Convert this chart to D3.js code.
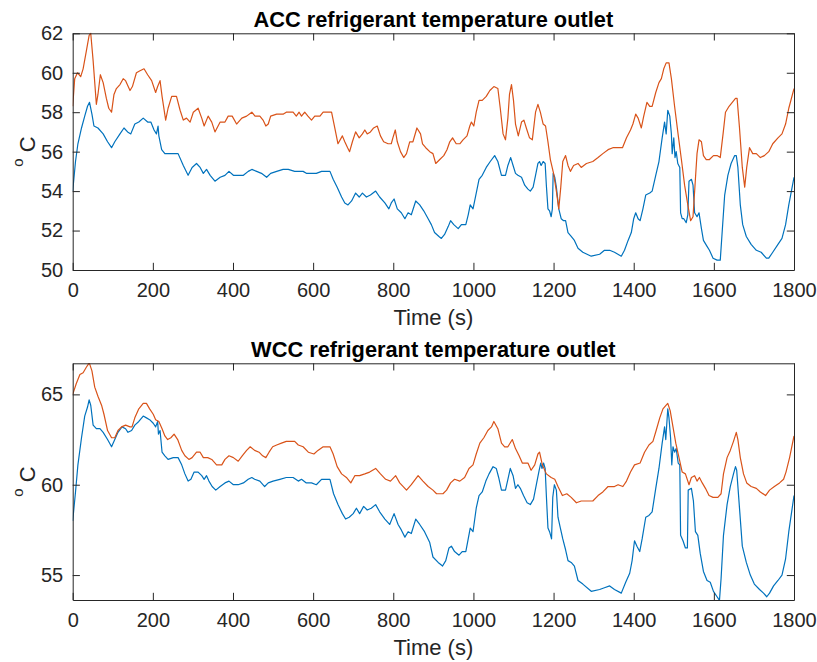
<!DOCTYPE html>
<html>
<head>
<meta charset="utf-8">
<script src="https://cdn.jsdelivr.net/npm/d3@7/dist/d3.min.js"></script>
<style>
  html, body { margin: 0; padding: 0; background: #fff; }
  svg { display: block; }
  text { font-family: "Liberation Sans", Arial, Helvetica, sans-serif; }
</style>
</head>
<body>
<svg id="chart" width="817" height="662"></svg>
<script>
// ---------------- DATA ----------------
const xTicks = [0, 200, 400, 600, 800, 1000, 1200, 1400, 1600, 1800];
const accYTicks = [50, 52, 54, 56, 58, 60, 62];
const wccYTicks = [55, 60, 65];
const accYDomain = [50, 62];
const wccYDomain = [53.62, 66.72];
const xDomain = [0, 1800];
const titles = ["ACC refrigerant temperature outlet", "WCC refrigerant temperature outlet"];
const xLabel = "Time (s)";

// ACC, series 2 (orange) [time s, temperature °C]
const accSeries2 = [[0,58.3],[5,59.7],[12,60.0],[20,59.8],[26,60.2],[34,61.1],[41,61.9],[45,62.0],[51,60.6],[59,58.4],[63,58.9],[69,59.9],[76,59.5],[84,58.7],[90,58.2],[97,58.0],[103,58.9],[109,59.2],[118,59.4],[126,59.7],[132,59.6],[143,59.1],[149,59.3],[159,60.0],[168,60.1],[178,60.2],[187,59.9],[197,59.6],[207,59.0],[212,59.3],[218,59.6],[223,58.8],[232,57.6],[238,58.2],[247,58.8],[259,58.8],[268,58.1],[276,57.6],[284,57.7],[293,57.5],[301,58.0],[313,58.2],[322,57.7],[328,57.3],[338,57.8],[347,57.5],[355,57.0],[368,57.5],[380,57.5],[388,57.8],[398,57.8],[409,57.4],[422,57.7],[434,57.8],[447,58.0],[455,57.8],[467,57.8],[475,57.6],[482,57.3],[488,57.4],[494,57.8],[509,57.9],[525,57.9],[533,58.0],[550,58.0],[558,57.8],[565,58.0],[571,57.8],[579,58.0],[587,57.8],[596,57.6],[604,57.8],[617,57.8],[625,58.0],[646,58.0],[654,57.2],[662,56.4],[673,56.8],[679,56.5],[686,56.2],[691,56.0],[698,56.5],[706,57.0],[715,56.7],[723,56.9],[729,57.1],[735,56.9],[743,57.0],[751,57.2],[760,57.3],[768,56.8],[776,56.5],[787,56.4],[795,56.4],[799,56.7],[805,57.1],[810,56.5],[818,56.0],[826,55.7],[833,55.9],[841,56.5],[849,56.5],[859,57.2],[868,56.9],[873,56.4],[881,56.2],[891,56.0],[899,55.9],[906,55.4],[916,55.6],[926,55.8],[934,56.1],[941,56.5],[948,56.7],[957,56.4],[966,56.4],[974,56.6],[984,56.8],[991,57.3],[995,57.5],[1001,57.3],[1007,58.0],[1014,58.6],[1022,58.6],[1032,58.8],[1041,59.1],[1051,59.3],[1061,59.2],[1067,58.2],[1074,56.9],[1080,56.6],[1086,57.7],[1090,58.9],[1095,59.4],[1100,58.6],[1105,57.4],[1112,56.8],[1120,57.5],[1126,57.6],[1132,57.2],[1140,56.7],[1147,56.6],[1155,58.0],[1161,58.4],[1167,58.0],[1174,57.4],[1180,57.3],[1186,56.5],[1192,55.6],[1200,54.9],[1207,54.0],[1213,53.1],[1218,54.2],[1223,55.5],[1230,55.8],[1236,55.3],[1242,55.0],[1250,55.3],[1261,55.4],[1269,55.2],[1282,55.4],[1298,55.5],[1311,55.7],[1323,55.9],[1336,56.1],[1348,56.2],[1372,56.2],[1382,56.7],[1392,57.1],[1398,57.4],[1405,57.9],[1411,57.7],[1419,57.2],[1425,57.8],[1433,58.5],[1440,58.3],[1446,58.3],[1455,59.0],[1463,59.5],[1469,59.7],[1475,60.2],[1481,60.5],[1488,60.5],[1494,59.7],[1502,58.3],[1510,57.0],[1519,55.6],[1527,54.3],[1535,53.3],[1542,52.5],[1548,52.7],[1553,54.3],[1558,55.9],[1563,56.6],[1569,56.5],[1574,55.8],[1581,55.6],[1589,55.6],[1599,55.8],[1608,55.8],[1616,55.7],[1623,56.9],[1629,58.0],[1638,58.3],[1646,58.5],[1654,58.7],[1658,58.7],[1664,57.2],[1671,55.2],[1677,54.2],[1682,55.2],[1689,56.2],[1697,55.9],[1706,55.9],[1716,55.7],[1726,55.8],[1737,56.0],[1747,56.4],[1760,56.7],[1770,56.9],[1779,57.4],[1787,58.2],[1800,59.2]];

// ACC, series 1 (blue)
const accSeries1 = [[0,54.0],[7,55.5],[13,56.4],[22,57.2],[30,57.8],[37,58.3],[42,58.5],[48,57.9],[53,57.3],[63,57.2],[76,56.9],[87,56.5],[97,56.2],[105,56.5],[118,56.9],[128,57.2],[137,57.0],[145,56.9],[155,57.4],[165,57.5],[176,57.7],[187,57.5],[195,57.5],[203,57.1],[209,56.9],[213,57.3],[215,56.8],[222,56.1],[230,55.9],[238,55.9],[251,55.9],[263,55.9],[276,55.3],[288,54.8],[298,55.2],[309,55.4],[318,55.2],[326,54.9],[334,55.1],[343,54.8],[355,54.5],[368,54.7],[380,54.8],[390,55.0],[401,54.8],[413,54.8],[426,54.8],[438,55.0],[447,55.1],[459,55.0],[471,54.9],[484,54.7],[494,54.9],[509,55.0],[525,55.1],[538,55.1],[554,55.0],[567,55.0],[575,55.0],[583,54.9],[596,54.9],[608,54.9],[621,55.0],[642,55.0],[650,54.6],[660,54.2],[671,53.7],[679,53.4],[687,53.3],[696,53.5],[706,53.9],[715,53.7],[723,53.9],[733,53.7],[743,53.8],[756,54.0],[766,53.7],[779,53.4],[789,53.1],[795,53.4],[802,53.6],[810,53.1],[820,52.9],[829,52.6],[837,52.9],[845,52.8],[856,53.5],[866,53.3],[876,53.0],[887,52.6],[895,52.3],[903,51.9],[914,51.7],[920,51.6],[928,51.8],[937,52.2],[943,52.5],[951,52.3],[962,52.1],[970,52.3],[981,52.3],[987,52.8],[992,53.3],[999,53.1],[1006,53.8],[1014,54.6],[1022,54.8],[1032,55.2],[1042,55.5],[1053,55.8],[1061,55.5],[1070,54.8],[1080,54.8],[1086,55.3],[1093,55.7],[1099,55.3],[1105,54.9],[1111,54.8],[1120,54.7],[1128,54.3],[1136,54.1],[1142,54.0],[1149,54.2],[1155,54.8],[1161,55.4],[1165,55.5],[1169,55.3],[1174,55.5],[1179,55.4],[1182,54.3],[1186,53.1],[1190,53.0],[1194,52.7],[1197,53.1],[1199,54.9],[1203,54.7],[1207,54.2],[1213,53.1],[1219,52.6],[1225,52.5],[1230,52.5],[1236,51.9],[1244,51.7],[1252,51.5],[1261,51.1],[1273,50.9],[1294,50.7],[1315,50.8],[1327,51.0],[1340,51.0],[1352,50.9],[1369,50.7],[1377,51.0],[1386,51.5],[1394,51.9],[1400,52.6],[1405,52.9],[1411,52.6],[1416,52.5],[1423,53.1],[1430,53.8],[1440,53.9],[1446,54.0],[1455,54.8],[1463,55.5],[1471,56.7],[1477,57.5],[1481,56.9],[1485,58.1],[1490,57.8],[1494,56.9],[1496,55.9],[1500,56.7],[1503,55.7],[1506,56.0],[1510,55.4],[1515,55.2],[1517,52.9],[1521,52.6],[1525,52.6],[1531,52.4],[1535,52.8],[1538,54.5],[1544,54.6],[1548,54.3],[1552,52.9],[1558,52.7],[1563,52.9],[1569,52.1],[1574,51.5],[1583,51.2],[1589,51.0],[1598,50.6],[1608,50.5],[1616,50.5],[1621,52.0],[1627,53.8],[1635,54.8],[1643,55.4],[1652,55.8],[1656,55.8],[1660,55.2],[1666,53.3],[1672,52.3],[1681,51.7],[1693,51.3],[1706,51.0],[1718,50.9],[1731,50.6],[1737,50.6],[1747,50.9],[1760,51.3],[1770,51.6],[1779,52.3],[1787,53.3],[1800,54.7]];

// WCC, series 2 (orange)
const wccSeries2 = [[0,65.0],[9,65.6],[18,66.1],[26,66.2],[34,66.5],[40,66.7],[42,66.7],[48,66.3],[55,65.4],[63,64.9],[72,64.4],[78,63.9],[87,63.0],[97,62.6],[105,62.6],[113,63.0],[122,63.2],[132,63.3],[143,63.2],[148,63.2],[155,63.7],[165,64.2],[176,64.5],[184,64.5],[192,64.2],[201,63.9],[207,63.6],[215,63.5],[223,63.1],[230,62.7],[237,62.5],[245,62.6],[253,62.8],[262,62.5],[272,61.9],[280,61.6],[290,61.4],[298,61.5],[309,61.8],[318,61.8],[326,61.5],[337,61.5],[347,61.4],[359,61.1],[372,61.1],[380,61.4],[390,61.6],[401,61.5],[413,61.3],[423,61.6],[434,61.9],[443,62.1],[454,61.9],[465,61.8],[474,61.6],[482,61.5],[490,61.8],[499,62.1],[509,62.2],[521,62.3],[533,62.4],[554,62.4],[563,62.2],[575,62.1],[588,61.8],[602,61.7],[612,61.9],[625,62.1],[642,62.1],[650,61.7],[660,61.0],[671,60.6],[683,60.4],[694,60.1],[704,60.5],[716,60.5],[729,60.6],[741,60.7],[756,60.9],[768,60.6],[781,60.3],[793,60.2],[806,60.5],[816,60.1],[833,59.7],[845,60.0],[862,60.5],[874,60.2],[887,59.9],[899,59.7],[908,59.5],[924,59.5],[933,59.7],[943,60.1],[953,60.3],[966,60.2],[978,60.4],[989,60.9],[999,61.1],[1007,61.7],[1016,62.3],[1026,62.6],[1036,63.0],[1045,63.2],[1051,63.5],[1061,63.1],[1070,62.3],[1078,62.1],[1086,62.1],[1097,62.5],[1105,62.0],[1114,61.6],[1122,61.2],[1136,61.2],[1144,60.8],[1153,61.1],[1161,61.7],[1165,61.8],[1172,61.1],[1182,60.6],[1194,60.4],[1203,60.3],[1211,59.9],[1222,59.4],[1233,59.5],[1244,59.3],[1257,59.0],[1269,59.1],[1282,59.1],[1298,59.1],[1311,59.4],[1323,59.6],[1336,59.9],[1352,59.9],[1361,60.0],[1373,59.9],[1382,60.2],[1392,60.7],[1402,61.1],[1416,61.2],[1427,61.8],[1438,62.2],[1448,62.4],[1456,63.0],[1465,63.7],[1473,64.2],[1481,64.4],[1485,64.5],[1491,64.1],[1498,63.2],[1505,62.3],[1513,61.5],[1521,60.7],[1529,60.6],[1538,60.0],[1544,60.4],[1552,60.5],[1558,60.2],[1564,60.4],[1571,60.1],[1579,59.8],[1588,59.4],[1598,59.3],[1610,59.3],[1618,59.5],[1624,60.6],[1633,61.5],[1641,61.9],[1649,62.4],[1656,62.9],[1660,62.5],[1666,61.5],[1674,60.6],[1682,60.1],[1693,59.9],[1706,59.8],[1716,59.6],[1729,59.4],[1739,59.7],[1751,59.9],[1764,60.1],[1774,60.3],[1780,60.7],[1789,61.5],[1800,62.7]];

// WCC, series 1 (blue)
const wccSeries1 = [[0,58.0],[7,59.6],[13,61.1],[22,62.6],[30,63.8],[37,64.3],[41,64.7],[45,64.4],[51,63.3],[59,63.1],[68,63.1],[76,62.9],[87,62.5],[97,62.1],[105,62.5],[113,62.9],[123,63.2],[132,63.1],[138,62.9],[147,63.0],[155,63.3],[165,63.5],[176,63.8],[184,63.7],[192,63.6],[201,63.4],[207,63.2],[212,63.5],[214,62.8],[218,63.0],[223,61.8],[230,61.6],[238,61.4],[251,61.5],[263,61.5],[272,61.1],[280,60.6],[288,60.2],[295,60.3],[303,60.7],[313,60.7],[322,60.5],[328,60.3],[334,60.5],[340,60.2],[348,59.9],[357,59.7],[368,59.9],[380,60.1],[390,60.2],[401,60.0],[413,60.0],[426,60.1],[438,60.3],[447,60.4],[454,60.3],[467,60.2],[479,59.9],[488,60.1],[500,60.2],[517,60.3],[533,60.4],[550,60.4],[563,60.2],[571,60.3],[583,60.1],[596,60.1],[608,60.0],[621,60.3],[642,60.3],[651,59.5],[662,58.9],[673,58.4],[681,58.1],[690,58.2],[700,58.4],[708,58.7],[716,58.4],[726,58.8],[735,58.6],[745,58.7],[756,58.9],[766,58.5],[779,58.1],[791,57.8],[802,58.4],[812,57.8],[820,57.5],[829,57.1],[837,57.4],[845,57.3],[856,58.1],[866,57.8],[878,57.4],[891,56.8],[899,56.0],[912,55.7],[923,55.5],[931,55.8],[939,56.5],[945,56.6],[953,56.3],[964,56.1],[972,56.3],[981,56.3],[987,57.0],[992,57.6],[999,57.4],[1007,58.7],[1014,59.4],[1022,59.6],[1031,60.2],[1039,60.6],[1049,61.0],[1057,60.9],[1063,60.4],[1070,59.7],[1080,59.7],[1086,60.3],[1092,60.9],[1099,60.5],[1105,59.8],[1111,60.0],[1117,59.8],[1125,59.4],[1134,59.0],[1142,58.9],[1150,59.2],[1157,60.0],[1164,60.8],[1168,61.2],[1171,60.9],[1175,61.2],[1179,60.9],[1182,59.4],[1186,57.6],[1190,57.4],[1195,57.0],[1198,59.3],[1202,60.0],[1207,59.7],[1211,58.2],[1217,57.6],[1223,57.0],[1230,56.4],[1236,55.8],[1244,55.7],[1252,55.5],[1261,54.7],[1273,54.5],[1294,54.1],[1315,54.2],[1327,54.3],[1340,54.4],[1352,54.2],[1369,54.0],[1380,54.6],[1390,55.1],[1396,55.8],[1402,56.9],[1408,56.6],[1415,56.3],[1421,57.0],[1430,58.2],[1438,58.3],[1446,58.5],[1455,59.8],[1463,60.9],[1471,62.3],[1477,63.2],[1480,62.5],[1485,64.2],[1488,63.7],[1492,62.6],[1495,61.1],[1498,62.1],[1502,61.8],[1506,62.0],[1511,61.2],[1515,61.1],[1517,57.2],[1523,56.9],[1529,56.5],[1534,56.5],[1536,59.7],[1544,59.8],[1549,59.1],[1554,57.4],[1560,57.2],[1566,56.2],[1574,55.2],[1583,54.7],[1591,54.6],[1599,54.1],[1608,53.8],[1614,53.6],[1618,54.8],[1624,57.2],[1633,58.9],[1641,59.9],[1649,60.6],[1654,61.0],[1657,60.8],[1662,59.3],[1671,56.6],[1681,55.7],[1691,55.0],[1701,54.5],[1714,54.2],[1724,54.0],[1732,53.8],[1739,54.0],[1749,54.4],[1760,54.7],[1770,55.0],[1779,55.9],[1787,57.4],[1800,59.4]];

// ---------------- DRAWING ----------------
const svg = d3.select("#chart");
const COLOR1 = "#0072BD", COLOR2 = "#D95319";
const AX = "#262626";
const left = 72.7, right = 794;
const panels = [
  { top: 33.3, bottom: 270, yDomain: accYDomain, yTicks: accYTicks, s1: accSeries1, s2: accSeries2, title: titles[0] },
  { top: 363.3, bottom: 600, yDomain: wccYDomain, yTicks: wccYTicks, s1: wccSeries1, s2: wccSeries2, title: titles[1] }
];
const tickLen = 7.2;
const fs = 20;       // tick labels
const lfs = 22;      // axis labels
const tfs = 21.8;    // titles

panels.forEach((p, i) => {
  const x = d3.scaleLinear().domain(xDomain).range([left, right]);
  const y = d3.scaleLinear().domain(p.yDomain).range([p.bottom, p.top]);
  const g = svg.append("g");

  const clipId = "clip" + i;
  svg.append("clipPath").attr("id", clipId).append("rect")
    .attr("x", left).attr("y", p.top - 1).attr("width", right - left).attr("height", p.bottom - p.top + 2);

  const line = d3.line().x(d => x(d[0])).y(d => y(d[1]));
  g.append("path").datum(p.s1).attr("d", line).attr("fill", "none")
    .attr("stroke", COLOR1).attr("stroke-width", 1.2).attr("stroke-linejoin", "round").attr("clip-path", `url(#${clipId})`);
  g.append("path").datum(p.s2).attr("d", line).attr("fill", "none")
    .attr("stroke", COLOR2).attr("stroke-width", 1.2).attr("stroke-linejoin", "round").attr("clip-path", `url(#${clipId})`);

  const styleAxis = sel => {
    sel.select(".domain").attr("stroke", AX).attr("stroke-width", 1);
    sel.selectAll(".tick line").attr("stroke", AX).attr("stroke-width", 1);
    sel.selectAll(".tick text").attr("fill", AX).style("font-size", fs + "px")
      .style("font-family", '"Liberation Sans", Arial, Helvetica, sans-serif');
  };

  g.append("g").attr("transform", `translate(0,${p.bottom})`)
    .call(d3.axisBottom(x).tickValues(xTicks).tickSizeInner(-tickLen).tickSizeOuter(0).tickPadding(12.5).tickFormat(d3.format("d")))
    .call(styleAxis);
  g.append("g").attr("transform", `translate(0,${p.top})`)
    .call(d3.axisTop(x).tickValues(xTicks).tickSizeInner(-tickLen).tickSizeOuter(0).tickFormat(""))
    .call(styleAxis);
  g.append("g").attr("transform", `translate(${left},0)`)
    .call(d3.axisLeft(y).tickValues(p.yTicks).tickSizeInner(-tickLen).tickSizeOuter(0).tickPadding(9.5).tickFormat(d3.format("d")))
    .call(styleAxis);
  g.append("g").attr("transform", `translate(${right},0)`)
    .call(d3.axisRight(y).tickValues(p.yTicks).tickSizeInner(-tickLen).tickSizeOuter(0).tickFormat(""))
    .call(styleAxis);

  // title
  svg.append("text").attr("x", (left + right) / 2).attr("y", p.top - 6.3)
    .attr("text-anchor", "middle").attr("font-weight", "bold").attr("fill", "#000")
    .style("font-size", tfs + "px").text(p.title);

  // x label
  svg.append("text").attr("x", (left + right) / 2).attr("y", p.bottom + 55)
    .attr("text-anchor", "middle").attr("fill", AX).style("font-size", lfs + "px").text(xLabel);

  // y label "°C" (superscript o)
  const yl = svg.append("text")
    .attr("transform", `translate(35,${(p.top + p.bottom) / 2}) rotate(-90)`)
    .attr("text-anchor", "middle").attr("fill", AX).style("font-size", lfs + "px");
  yl.append("tspan").style("font-size", "15px").attr("dy", -12).text("o");
  yl.append("tspan").attr("dy", 12).text(" C");
});
</script>
</body>
</html>
